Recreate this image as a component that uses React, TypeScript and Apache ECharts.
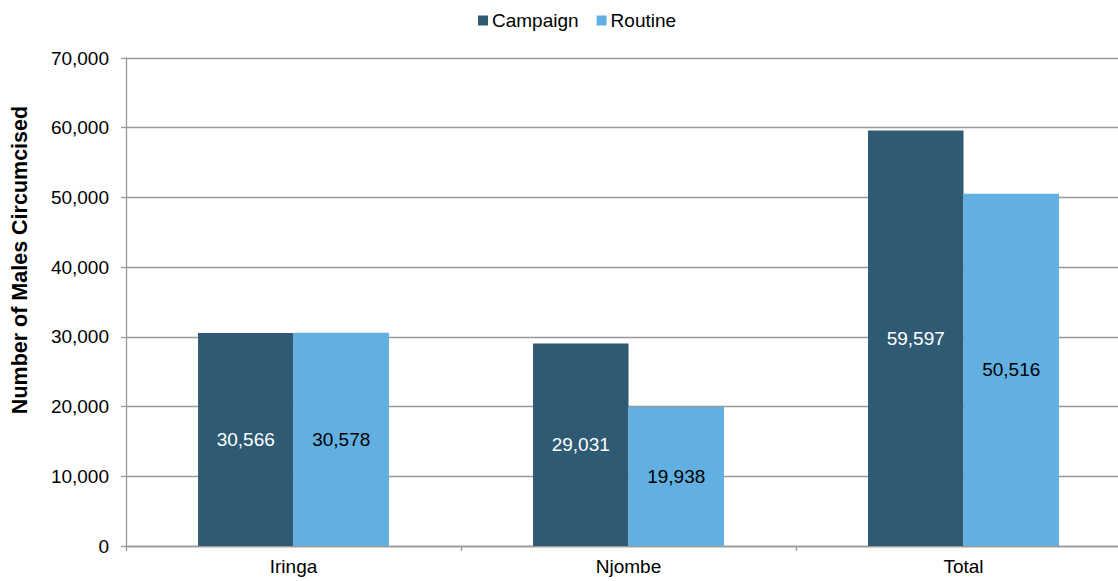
import React, { useEffect, useRef } from "react";
import * as echarts from "echarts";

const categories = ["Iringa", "Njombe", "Total"];
const campaign = [30566, 29031, 59597];
const routine = [30578, 19938, 50516];
const yTicks = { min: 0, max: 70000, interval: 10000 };
const yTitle = "Number of Males Circumcised";

const fmt = (v: number) => v.toLocaleString("en-US");
const FONT = "Liberation Sans, Arial, sans-serif";
const FS = 19;

export default function App() {
  const ref = useRef<HTMLDivElement>(null);
  useEffect(() => {
    const chart = echarts.init(ref.current!, null, { renderer: "svg" });
    chart.setOption({
      animation: false,
      textStyle: { fontFamily: FONT },
      legend: {
        top: 6,
        left: 473,
        itemWidth: 10,
        itemHeight: 10,
        itemGap: 18,
        icon: "rect",
        textStyle: { fontSize: FS, color: "#000", fontFamily: FONT, padding: [0, 0, 0, -1] },
        data: ["Campaign", "Routine"],
      },
      graphic: [
        {
          type: "text",
          x: 20,
          y: 260,
          rotation: Math.PI / 2,
          style: {
            text: yTitle,
            fontSize: 21.5,
            fontWeight: "bold",
            fontFamily: FONT,
            fill: "#000",
            textAlign: "center",
            textVerticalAlign: "middle",
          },
        },
      ],
      grid: { left: 126, right: 0, top: 58, bottom: 35, containLabel: false },
      xAxis: {
        type: "category",
        data: categories,
        axisLine: { lineStyle: { color: "#999", width: 1.3 } },
        axisTick: { show: true, length: 5, lineStyle: { color: "#999", width: 1.3 } },
        axisLabel: { fontSize: FS, color: "#000", margin: 11, fontFamily: FONT },
      },
      yAxis: {
        type: "value",
        min: yTicks.min,
        max: yTicks.max,
        interval: yTicks.interval,
        axisLine: { show: true, lineStyle: { color: "#999", width: 1.3 } },
        axisTick: { show: true, length: 5, lineStyle: { color: "#999", width: 1.3 } },
        axisLabel: { fontSize: FS, color: "#000", margin: 17, formatter: (v: number) => fmt(v), fontFamily: FONT },
        splitLine: { lineStyle: { color: "#999", width: 1.3 } },
      },
      series: [
        {
          name: "Campaign",
          type: "bar",
          data: campaign,
          barGap: "0%",
          barCategoryGap: "43%",
          itemStyle: { color: "#2E5A74" },
          label: { show: true, position: "inside", color: "#fff", fontSize: FS, fontFamily: FONT, formatter: (p: any) => fmt(p.value) },
        },
        {
          name: "Routine",
          type: "bar",
          data: routine,
          barGap: "0%",
          barCategoryGap: "43%",
          itemStyle: { color: "#62B0E2" },
          label: { show: true, position: "inside", color: "#000", fontSize: FS, fontFamily: FONT, formatter: (p: any) => fmt(p.value) },
        },
      ],
    });
    return () => chart.dispose();
  }, []);
  return (
    <div style={{ position: "absolute", left: 0, top: 0, width: 1118, height: 581, overflow: "hidden" }}>
      <div ref={ref} style={{ width: 1131, height: 581 }} />
    </div>
  );
}
